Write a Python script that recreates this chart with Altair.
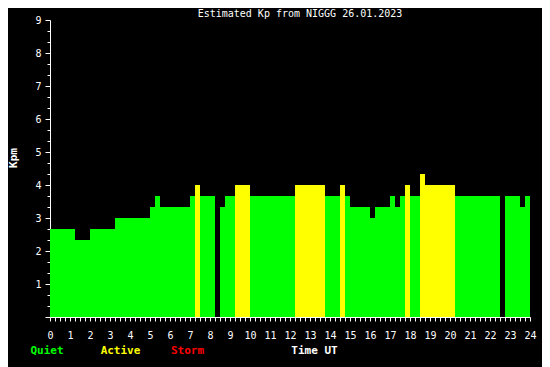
import altair as alt
import pandas as pd

# Segments of the estimated Kp (hours UT)
seg_start = [0.0, 1.25, 2.0, 3.25, 5.0, 5.25, 5.5, 7.0, 7.25, 7.5, 8.5, 8.75, 9.25, 10.0,
             12.25, 13.75, 14.5, 14.75, 15.0, 16.0, 16.25, 17.0, 17.25, 17.5, 17.75, 18.0,
             18.5, 18.75, 20.25, 22.75, 23.5, 23.75]
seg_end = [1.25, 2.0, 3.25, 5.0, 5.25, 5.5, 7.0, 7.25, 7.5, 8.25, 8.75, 9.25, 10.0, 12.25,
           13.75, 14.5, 14.75, 15.0, 16.0, 16.25, 17.0, 17.25, 17.5, 17.75, 18.0, 18.5,
           18.75, 20.25, 22.5, 23.5, 23.75, 24.0]
kp_values = [2.667, 2.333, 2.667, 3.0, 3.333, 3.667, 3.333, 3.667, 4.0, 3.667, 3.333, 3.667,
             4.0, 3.667, 4.0, 3.667, 4.0, 3.667, 3.333, 3.0, 3.333, 3.667, 3.333, 3.667,
             4.0, 3.667, 4.333, 4.0, 3.667, 3.667, 3.333, 3.667]

classes = ["Quiet", "Active", "Storm"]
class_colors = ["#00ff00", "#ffff00", "#ff0000"]

x_ticks = [i / 4 for i in range(97)]
y_ticks = [i / 3 for i in range(28)]

df = pd.DataFrame({"start": seg_start, "end": seg_end, "kp": kp_values})
df["level"] = ["Storm" if v >= 5 else ("Active" if v >= 4 else "Quiet") for v in df["kp"]]

FONT = "DejaVu Sans Mono"

bars = alt.Chart(df).mark_rect().encode(
    x=alt.X("start:Q", scale=alt.Scale(domain=[0, 24], nice=False, zero=False),
            axis=alt.Axis(values=x_ticks, title=None, grid=False,
                          labelExpr="datum.value % 1 === 0 ? format(datum.value, 'd') : ''",
                          labelOverlap=False, labelFlush=False, tickSize=4,
                          labelPadding=9)),
    x2="end:Q",
    y=alt.Y("kp:Q", scale=alt.Scale(domain=[0, 9], nice=False),
            axis=alt.Axis(values=y_ticks, title=None, grid=False,
                          labelExpr="datum.value % 1 === 0 && datum.value > 0 ? format(datum.value, 'd') : ''",
                          labelOverlap=False, labelFlush=False,
                          tickSize={"condition": {"test": "datum.value % 1 === 0", "value": 5}, "value": 3},
                          labelPadding=4)),
    y2=alt.datum(0),
    color=alt.Color("level:N", scale=alt.Scale(domain=classes, range=class_colors), legend=None),
)

title_df = pd.DataFrame({"t": ["Estimated Kp from NIGGG 26.01.2023"]})
title = alt.Chart(title_df).mark_text(font=FONT, fontSize=10, color="white").encode(
    text="t:N", x=alt.value(250), y=alt.value(-6))

ylab = alt.Chart(pd.DataFrame({"t": ["Kpm"]})).mark_text(
    font=FONT, fontSize=11, fontWeight="bold", color="white", angle=270).encode(
    text="t:N", x=alt.value(-36), y=alt.value(138))

legend_df = pd.DataFrame({"t": ["Quiet", "Active", "Storm"], "c": class_colors,
                          "px": [-3, 70.5, 137.5]})
legend = alt.Chart(legend_df).mark_text(font=FONT, fontSize=11, fontWeight="bold").encode(
    text="t:N", x=alt.X("px:Q", scale=None), y=alt.value(331),
    color=alt.Color("c:N", scale=None))

xlab = alt.Chart(pd.DataFrame({"t": ["Time UT"]})).mark_text(
    font=FONT, fontSize=11, fontWeight="bold", color="white").encode(
    text="t:N", x=alt.value(264.5), y=alt.value(331))

chart = alt.layer(bars, title, ylab, legend, xlab).properties(
    width=480, height=297,
    autosize=alt.AutoSizeParams(type="none"),
    padding={"left": 42, "top": 12, "right": 12, "bottom": 50},
    background="black",
).configure_view(stroke=None, fill="black").configure_axis(
    labelFont=FONT, labelFontSize=10, labelColor="white",
    tickColor="white", domainColor="white", domainWidth=1, tickWidth=1,
)

chart.save("out.html", embed_options={"renderer": "svg", "actions": False})
